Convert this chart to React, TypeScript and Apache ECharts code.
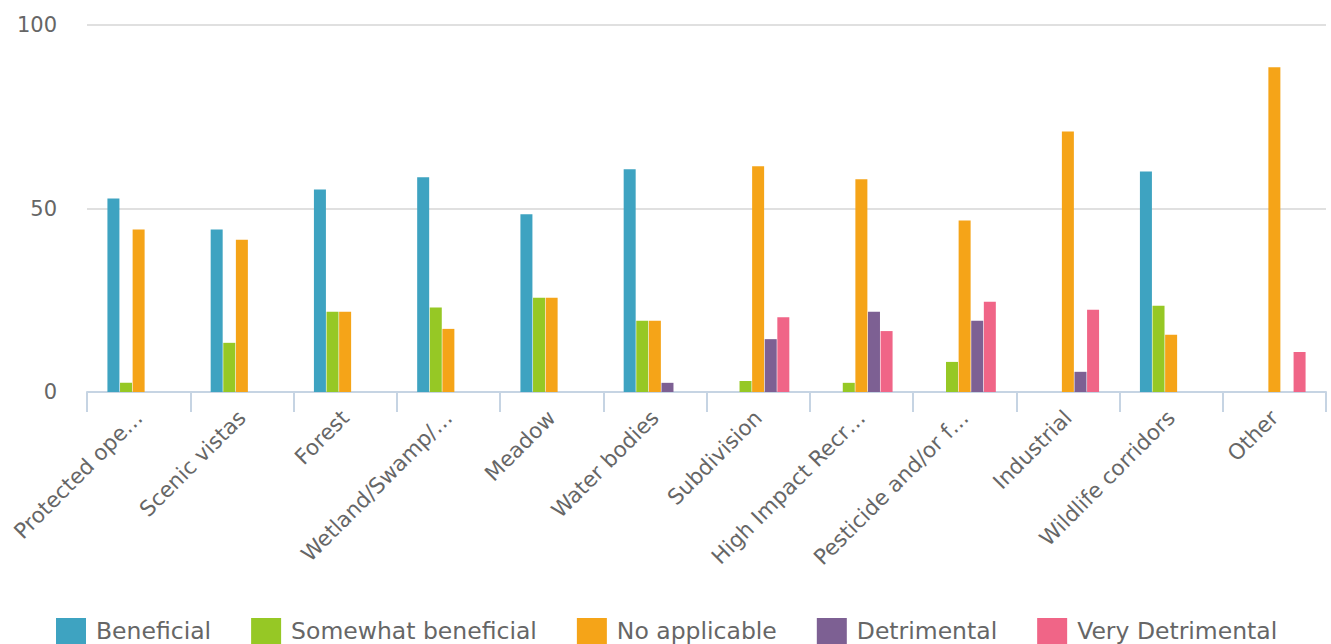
import React, { useEffect, useRef } from "react";
import * as echarts from "echarts";

const categories = [
  "Protected ope…",
  "Scenic vistas",
  "Forest",
  "Wetland/Swamp/…",
  "Meadow",
  "Water bodies",
  "Subdivision",
  "High Impact Recr…",
  "Pesticide and/or f…",
  "Industrial",
  "Wildlife corridors",
  "Other",
];

const seriesNames = ["Beneficial", "Somewhat beneficial", "No applicable", "Detrimental", "Very Detrimental"];

const beneficial = [52.7, 44.3, 55.2, 58.5, 48.4, 60.7, 0, 0, 0, 0, 60.1, 0];
const somewhatBeneficial = [2.5, 13.4, 21.9, 23.0, 25.7, 19.4, 3.0, 2.5, 8.2, 0, 23.5, 0];
const noApplicable = [44.3, 41.5, 21.9, 17.2, 25.7, 19.4, 61.5, 58.0, 46.7, 71.0, 15.6, 88.5];
const detrimental = [0, 0, 0, 0, 0, 2.5, 14.4, 21.9, 19.4, 5.5, 0, 0];
const veryDetrimental = [0, 0, 0, 0, 0, 0, 20.4, 16.6, 24.6, 22.4, 0, 10.9];

const yTicks = { min: 0, max: 100, interval: 50 };

const colors = ["#3ea3c1", "#96c825", "#f5a418", "#7d6093", "#f06587"];

export default function App() {
  const ref = useRef<HTMLDivElement>(null);
  useEffect(() => {
    document.body.style.margin = "0";
    const chart = echarts.init(ref.current!, null, { renderer: "svg" });
    const data = [beneficial, somewhatBeneficial, noApplicable, detrimental, veryDetrimental];
    chart.setOption({
      animation: false,
      color: colors,
      textStyle: { fontFamily: "DejaVu Sans" },
      grid: { left: 87, right: 5, top: 25, bottom: 252, containLabel: false },
      legend: {
        top: 618,
        left: 56,
        padding: 0,
        itemWidth: 30,
        itemHeight: 26,
        itemGap: 40,
        icon: "rect",
        textStyle: { fontSize: 23.5, color: "#666", fontFamily: "DejaVu Sans", padding: [0, 0, 0, 5] },
        data: seriesNames,
      },
      xAxis: {
        type: "category",
        data: categories,
        axisLine: { lineStyle: { color: "#c6d4e3", width: 2 } },
        axisTick: { show: true, length: 20, lineStyle: { color: "#c6d4e3", width: 2 } },
        axisLabel: {
          rotate: 45,
          interval: 0,
          fontSize: 21.5,
          color: "#666",
          margin: 22,
          fontFamily: "DejaVu Sans",
        },
      },
      yAxis: {
        type: "value",
        min: yTicks.min,
        max: yTicks.max,
        interval: yTicks.interval,
        axisLine: { show: false },
        axisTick: { show: false },
        splitLine: { lineStyle: { color: "#e0e0e0", width: 2 } },
        axisLabel: { fontSize: 21, color: "#666", margin: 30, fontFamily: "DejaVu Sans" },
      },
      series: seriesNames.map((name, i) => ({
        name,
        type: "bar",
        data: data[i],
        barWidth: 12,
        barGap: "5%",
      })),
    });
    return () => chart.dispose();
  }, []);
  return <div ref={ref} style={{ width: 1331, height: 644 }} />;
}
